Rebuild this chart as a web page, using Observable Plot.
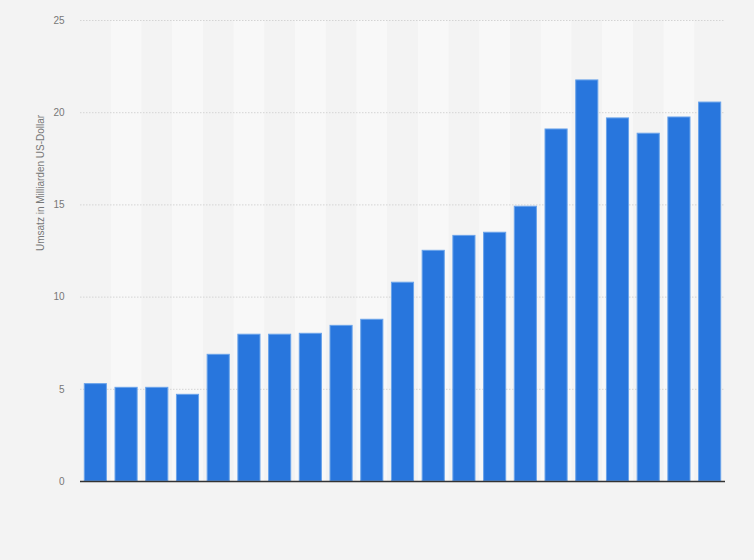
<!DOCTYPE html>
<html>
<head>
<meta charset="utf-8">
<script src="https://cdn.jsdelivr.net/npm/d3@7"></script>
<script src="https://cdn.jsdelivr.net/npm/@observablehq/plot@0.6"></script>
<style>
  html, body { margin: 0; padding: 0; background: #f3f3f3; }
  #chart svg { display: block; }
</style>
</head>
<body>
<div id="chart"></div>
<script>
const categories = ["1","2","3","4","5","6","7","8","9","10","11","12","13","14","15","16","17","18","19","20","21"];
const values = [5.28, 5.08, 5.08, 4.70, 6.87, 7.96, 7.96, 8.01, 8.44, 8.77, 10.78, 12.51, 13.32, 13.49, 14.90, 19.09, 21.75, 19.69, 18.86, 19.74, 20.55];
const yTicks = [0, 5, 10, 15, 20, 25];
const yLabel = "Umsatz in Milliarden US-Dollar";

const data = categories.map((c, i) => ({cat: c, value: values[i]}));
const stripes = categories.filter((c, i) => i % 2 === 1);

const W = 754, H = 560, ML = 80, MR = 29, MT = 20, MB = 79;
const pInner = 0.28;
const step = (W - ML - MR) / categories.length;
const stripeInset = -(step * pInner) / 2;

const chart = Plot.plot({
  width: W,
  height: H,
  marginLeft: ML,
  marginRight: MR,
  marginTop: MT,
  marginBottom: MB,
  style: {background: "#f3f3f3", fontFamily: "Liberation Sans, Arial, sans-serif", fontSize: "10px"},
  x: {domain: categories, paddingInner: pInner, paddingOuter: pInner / 2, round: false, axis: null},
  y: {domain: [0, 25], ticks: yTicks, axis: null},
  marks: [
    Plot.barY(stripes, {x: d => d, y1: 0, y2: 25, fill: "#f8f8f8", insetLeft: stripeInset, insetRight: stripeInset}),
    Plot.ruleY(yTicks.filter(t => t > 0), {stroke: "#d4d4d4", strokeDasharray: "1.5,1.5", strokeWidth: 1}),
    Plot.barY(data, {x: "cat", y: "value", fill: "#2876dd", stroke: "#6aa3ea", strokeWidth: 1}),
    Plot.ruleY([0], {stroke: "#333", strokeWidth: 1.3}),
    Plot.axisY({ticks: yTicks, tickSize: 0, tickPadding: 16, label: null, color: "#777", fontSize: 10}),
    Plot.text([yLabel], {frameAnchor: "left", rotate: -90, dx: -40, fill: "#777", fontSize: 10})
  ]
});
document.getElementById("chart").appendChild(chart);
</script>
</body>
</html>
